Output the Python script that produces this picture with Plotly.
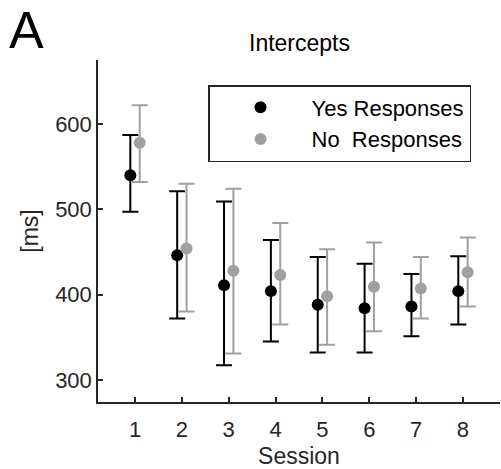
import plotly.graph_objects as go

sessions = [1, 2, 3, 4, 5, 6, 7, 8]
yes_mean = [540, 446, 411, 404, 388, 384, 386, 404]
yes_upper = [587, 521, 509, 464, 444, 436, 424, 445]
yes_lower = [497, 372, 317, 345, 332, 332, 351, 365]
no_mean = [578, 454, 428, 423, 398, 409, 407, 426]
no_upper = [622, 530, 524, 484, 453, 461, 444, 467]
no_lower = [532, 380, 331, 365, 341, 357, 372, 386]
offset = 0.1

FONT = "Liberation Sans, Arial, Helvetica, sans-serif"
AX = "#262626"
FS = 23

def trace(name, mean, up, lo, color, dx):
    return go.Scatter(
        x=[s + dx for s in sessions], y=mean, mode="markers", name=name,
        marker=dict(color=color, size=12, line=dict(width=0)),
        error_y=dict(type="data", symmetric=False,
                     array=[u - m for u, m in zip(up, mean)],
                     arrayminus=[m - l for m, l in zip(mean, lo)],
                     color=color, thickness=2, width=8),
    )

fig = go.Figure([
    trace("Yes Responses", yes_mean, yes_upper, yes_lower, "#000000", -offset),
    trace("No  Responses", no_mean, no_upper, no_lower, "#a0a0a0", offset),
])

L, R, T, B = 98, 1, 60, 67
PW, PH = 501 - L - R, 469 - T - B

fig.update_layout(
    width=501, height=469,
    margin=dict(l=L, r=R, t=T, b=B, autoexpand=False),
    paper_bgcolor="white", plot_bgcolor="white",
    font=dict(family=FONT, size=FS, color=AX),
    showlegend=True,
    legend=dict(x=(208 - L) / PW, y=(402 - 85) / PH, xanchor="left", yanchor="top",
                bordercolor=AX, borderwidth=1.5, bgcolor="white",
                font=dict(size=22, color="#000000"), itemwidth=92,
                entrywidth=242, entrywidthmode="pixels",
                tracegroupgap=0),
    annotations=[
        dict(text="Intercepts", x=0.5, y=(402 - 43) / PH, xref="paper", yref="paper",
             xanchor="center", yanchor="middle",
             showarrow=False, font=dict(size=FS, color="#000000")),
        dict(text="A", x=(26 - L) / PW, y=(402 - 30) / PH, xref="paper", yref="paper",
             xanchor="center", yanchor="middle",
             showarrow=False, font=dict(size=52, color="#000000")),
    ],
)

fig.update_xaxes(
    range=[0.21, 8.79], tickvals=sessions, ticktext=[str(s) for s in sessions],
    showline=True, linecolor=AX, linewidth=1.5, ticks="inside", ticklen=5,
    tickcolor=AX, tickwidth=1.5, showgrid=False, zeroline=False,
    ticklabelstandoff=7, automargin=False,
    title=dict(text="Session", font=dict(size=FS, color=AX), standoff=17),
    tickfont=dict(size=22, color=AX),
)
fig.update_yaxes(
    range=[274, 675], tickvals=[300, 400, 500, 600],
    showline=True, linecolor=AX, linewidth=1.5, ticks="inside", ticklen=5,
    tickcolor=AX, tickwidth=1.5, showgrid=False, zeroline=False,
    automargin=False,
    title=dict(text="[ms]", font=dict(size=FS, color=AX), standoff=10),
    tickfont=dict(size=22, color=AX),
)

fig.write_html("out.html", config={"displayModeBar": False},
               post_script="document.body.style.margin='0';document.body.style.overflow='hidden';")
